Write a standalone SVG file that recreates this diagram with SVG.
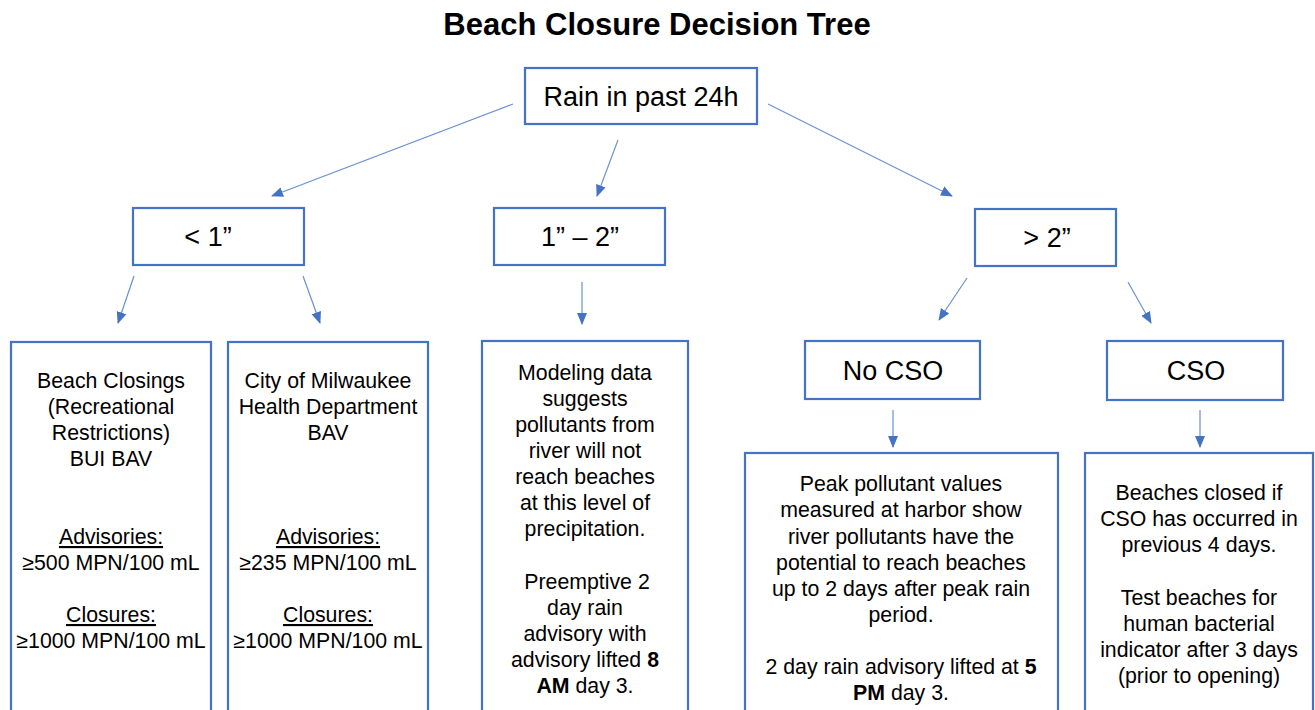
<svg xmlns="http://www.w3.org/2000/svg" width="1315" height="710" viewBox="0 0 1315 710">
<defs>
<marker id="ah" markerUnits="userSpaceOnUse" markerWidth="12" markerHeight="12" viewBox="0 0 12 12" refX="11" refY="6" orient="auto">
<path d="M0,1 L12,6 L0,11 Z" fill="#4472C4"/>
</marker>
<style>
.box{fill:#fff;stroke:#4472C4;stroke-width:2.2}
.c{stroke:#6A8FD3;stroke-width:1.2;fill:none;marker-end:url(#ah)}
.t{font-family:"Liberation Sans",Arial,sans-serif;font-size:21.3px;fill:#000;text-anchor:middle}
.h{font-family:"Liberation Sans",Arial,sans-serif;font-size:27px;fill:#000;text-anchor:middle}
.u{text-decoration:underline}
.b{font-weight:bold}
</style>
</defs>
<rect width="1315" height="710" fill="#fff"/>
<text x="657" y="35" font-family="Liberation Sans,Arial,sans-serif" font-size="31" font-weight="bold" text-anchor="middle">Beach Closure Decision Tree</text>

<g id="connectors">
<line class="c" x1="513" y1="104" x2="272" y2="196"/>
<line class="c" x1="618" y1="140" x2="597" y2="196"/>
<line class="c" x1="768" y1="104" x2="952" y2="196"/>
<line class="c" x1="134" y1="276" x2="118" y2="323"/>
<line class="c" x1="303" y1="276" x2="320" y2="323"/>
<line class="c" x1="582" y1="282" x2="582" y2="324"/>
<line class="c" x1="967" y1="278" x2="939" y2="320"/>
<line class="c" x1="1128" y1="282" x2="1151" y2="323"/>
<line class="c" x1="893" y1="410" x2="893" y2="447"/>
<line class="c" x1="1200" y1="410" x2="1200" y2="447"/>
</g>

<g id="root">
<rect class="box" x="525" y="68" width="232" height="56"/>
<text class="h" x="641" y="106" font-size="28.5">Rain in past 24h</text>
</g>
<g id="lt1">
<rect class="box" x="133" y="208" width="171" height="57"/>
<text class="h" x="208" y="246">&lt; 1”</text>
</g>
<g id="r12">
<rect class="box" x="494" y="208" width="171" height="57"/>
<text class="h" x="580" y="246">1” – 2”</text>
</g>
<g id="gt2">
<rect class="box" x="975" y="209" width="141" height="57"/>
<text class="h" x="1047" y="247">&gt; 2”</text>
</g>
<g id="nocso">
<rect class="box" x="805" y="341" width="175" height="58"/>
<text class="h" x="893" y="380">No CSO</text>
</g>
<g id="cso">
<rect class="box" x="1107" y="341" width="176" height="59"/>
<text class="h" x="1196" y="380">CSO</text>
</g>

<g id="box1">
<rect class="box" x="11" y="342" width="200" height="380"/>
<text class="t" x="111" y="388">Beach Closings</text>
<text class="t" x="111" y="414">(Recreational</text>
<text class="t" x="111" y="440">Restrictions)</text>
<text class="t" x="111" y="466">BUI BAV</text>
<text class="t u" x="111" y="544">Advisories:</text>
<text class="t" x="111" y="570">≥500 MPN/100 mL</text>
<text class="t u" x="111" y="622">Closures:</text>
<text class="t" x="111" y="648">≥1000 MPN/100 mL</text>
</g>
<g id="box2">
<rect class="box" x="228" y="342" width="200" height="380"/>
<text class="t" x="328" y="388">City of Milwaukee</text>
<text class="t" x="328" y="414">Health Department</text>
<text class="t" x="328" y="440">BAV</text>
<text class="t u" x="328" y="544">Advisories:</text>
<text class="t" x="328" y="570">≥235 MPN/100 mL</text>
<text class="t u" x="328" y="622">Closures:</text>
<text class="t" x="328" y="648">≥1000 MPN/100 mL</text>
</g>
<g id="box3">
<rect class="box" x="482" y="341" width="206" height="380"/>
<text class="t" x="585" y="380">Modeling data</text>
<text class="t" x="585" y="406">suggests</text>
<text class="t" x="585" y="432">pollutants from</text>
<text class="t" x="585" y="458">river will not</text>
<text class="t" x="585" y="484">reach beaches</text>
<text class="t" x="585" y="510">at this level of</text>
<text class="t" x="585" y="536">precipitation.</text>
<text class="t" x="587" y="589">Preemptive 2</text>
<text class="t" x="585" y="615">day rain</text>
<text class="t" x="585" y="641">advisory with</text>
<text class="t" x="585" y="667">advisory lifted <tspan class="b">8</tspan></text>
<text class="t" x="585" y="693"><tspan class="b">AM</tspan> day 3.</text>
</g>
<g id="box4">
<rect class="box" x="745" y="453" width="313" height="270"/>
<text class="t" x="901" y="491">Peak pollutant values</text>
<text class="t" x="901" y="517">measured at harbor show</text>
<text class="t" x="901" y="544">river pollutants have the</text>
<text class="t" x="901" y="570">potential to reach beaches</text>
<text class="t" x="901" y="596">up to 2 days after peak rain</text>
<text class="t" x="901" y="622">period.</text>
<text class="t" x="901" y="674">2 day rain advisory lifted at <tspan class="b">5</tspan></text>
<text class="t" x="901" y="700"><tspan class="b">PM</tspan> day 3.</text>
</g>
<g id="box5">
<rect class="box" x="1085" y="453" width="228" height="270"/>
<text class="t" x="1199" y="500">Beaches closed if</text>
<text class="t" x="1199" y="526">CSO has occurred in</text>
<text class="t" x="1199" y="552">previous 4 days.</text>
<text class="t" x="1199" y="605">Test beaches for</text>
<text class="t" x="1199" y="631">human bacterial</text>
<text class="t" x="1199" y="657">indicator after 3 days</text>
<text class="t" x="1199" y="683">(prior to opening)</text>
</g>
</svg>
